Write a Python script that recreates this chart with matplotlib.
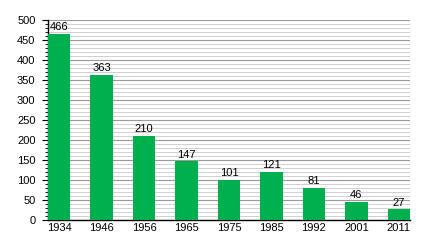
import numpy as np
import matplotlib
matplotlib.use("Agg")
import matplotlib.pyplot as plt
from matplotlib.ticker import MultipleLocator

# Census years and population values
years = ["1934", "1946", "1956", "1965", "1975", "1985", "1992", "2001", "2011"]
population = [466, 363, 210, 147, 101, 121, 81, 46, 27]

plt.rcParams["font.family"] = ["Liberation Sans", "DejaVu Sans"]
plt.rcParams["font.size"] = 8

fig = plt.figure(figsize=(4.4, 2.4), dpi=100)
ax = fig.add_axes([48 / 440, 20 / 240, 362 / 440, 200 / 240])

x = np.arange(len(years))
ax.bar(x, population, width=0.53, color="#00b04f", zorder=3)
for xi, v in zip(x, population):
    ax.text(xi, v + 4, str(v), ha="center", va="bottom", fontsize=8, zorder=4)

ax.set_xlim(-0.265, len(years) - 1 + 0.265)
ax.set_ylim(0, 500)
ax.set_xticks(x)
ax.set_xticklabels(years)
ax.yaxis.set_major_locator(MultipleLocator(50))
ax.yaxis.set_minor_locator(MultipleLocator(10))

ax.grid(axis="y", which="major", color="#999999", linewidth=0.8, zorder=0)
ax.grid(axis="y", which="minor", color="#d0d0d0", linewidth=0.7, zorder=0)

for side in ["top", "right"]:
    ax.spines[side].set_visible(False)
ax.spines["left"].set_linewidth(1.0)
ax.spines["bottom"].set_linewidth(1.0)
ax.tick_params(axis="x", length=0, pad=2)
ax.tick_params(axis="y", which="major", length=4, width=0.8, pad=5)
ax.tick_params(axis="y", which="minor", length=2, width=0.6)

fig.savefig("out.png", dpi=100)
